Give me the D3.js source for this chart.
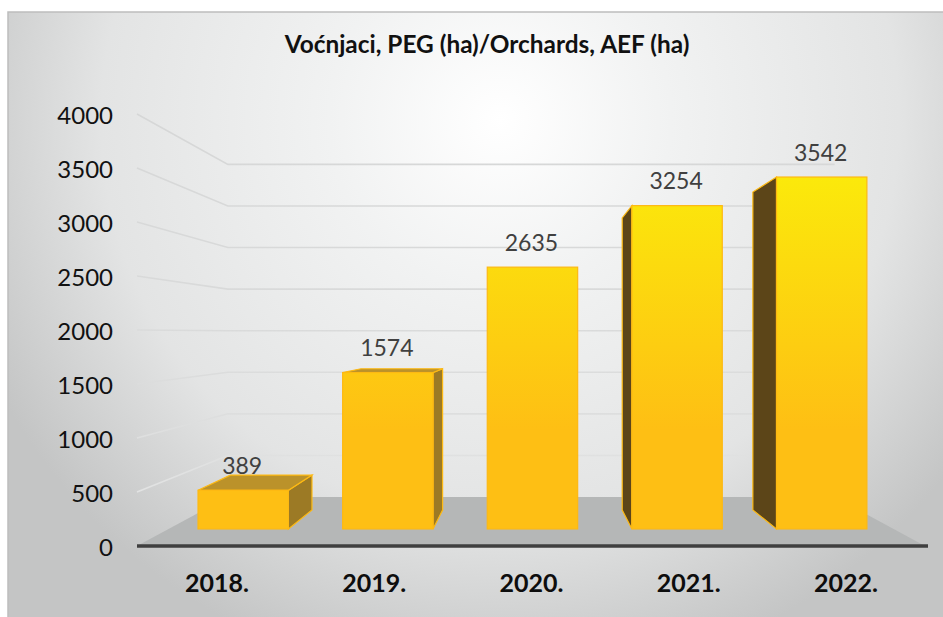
<!DOCTYPE html>
<html><head><meta charset="utf-8">
<script src="https://cdn.jsdelivr.net/npm/d3@7/dist/d3.min.js"></script>
<style>html,body{margin:0;padding:0;background:#fff}svg{display:block}text{font-family:Lato,"Noto Sans",sans-serif}</style>
</head><body><div id="chart"></div>
<script>
const categories = ["2018.", "2019.", "2020.", "2021.", "2022."];
const values = [389, 1574, 2635, 3254, 3542];
const tickValues = [0, 500, 1000, 1500, 2000, 2500, 3000, 3500, 4000];
const titleText = "Voćnjaci, PEG (ha)/Orchards, AEF (ha)";

const W = 943, H = 617;
const vp = [532, 333];                // perspective vanishing point
const depthBarFront = 0.08, depthBarBack = 0.169, depthWall = 0.23;
const P = (x, y, d) => [x + (vp[0] - x) * d, y + (vp[1] - y) * d];

const y = d3.scaleLinear().domain([0, 4000]).range([546, 114]);
const x = d3.scaleBand().domain(categories).range([139.5, 925.5]).paddingInner(0.375).paddingOuter(0.1875);
const floorX = d3.scaleLinear().domain([0, 1]).range([137, 925]);

const svg = d3.select("#chart").append("svg").attr("width", W).attr("height", H);
const defs = svg.append("defs");
const bg = defs.append("radialGradient").attr("id", "bg").attr("gradientUnits", "userSpaceOnUse")
  .attr("cx", 500).attr("cy", 120).attr("r", 570);
[[0, "#ffffff"], [0.3, "#f1f2f2"], [0.7, "#e3e4e4"], [1, "#c4c5c5"]].forEach(s => bg.append("stop").attr("offset", s[0]).attr("stop-color", s[1]));
const barG = defs.append("linearGradient").attr("id", "barFill").attr("gradientUnits", "userSpaceOnUse")
  .attr("x1", 0).attr("x2", 0).attr("y1", 178).attr("y2", 430);
[[0, "#fbe90b"], [1, "#febf14"]].forEach(s => barG.append("stop").attr("offset", s[0]).attr("stop-color", s[1]));
const gridG = defs.append("linearGradient").attr("id", "gridStroke").attr("gradientUnits", "userSpaceOnUse")
  .attr("x1", 0).attr("x2", 0).attr("y1", 114).attr("y2", 495);
[[0, "#d6d7d7"], [0.5, "#d9dada"], [0.75, "#dcdddd"], [1, "#e2e3e3"]].forEach(s => gridG.append("stop").attr("offset", s[0]).attr("stop-color", s[1]));

svg.append("rect").attr("x", 8).attr("y", 12).attr("width", 940).attr("height", 610)
  .attr("fill", "url(#bg)").attr("stroke", "#bdbdbd").attr("stroke-width", 1.5);

const line = d3.line();
const poly = pts => line(pts) + "Z";

// floor
svg.append("path").attr("fill", "#b5b7b7").attr("d", poly([
  P(floorX(0), y(0), 0), P(floorX(1), y(0), 0), P(floorX(1), y(0), depthWall), P(floorX(0), y(0), depthWall)]));

// gridlines: side wall + back wall
tickValues.filter(v => v > 0).forEach(v => {
  svg.append("path").attr("fill", "none").attr("stroke", "url(#gridStroke)").attr("stroke-width", 1.6)
    .attr("d", line([P(floorX(0), y(v), 0), P(floorX(0), y(v), depthWall), P(floorX(1), y(v), depthWall)]));
});

// bars
const sideG = svg.append("g"), frontG = svg.append("g");
categories.forEach((c, i) => {
  const v = values[i], l = x(c), r = l + x.bandwidth(), t = y(v), b = y(0);
  const edge = "#fdb913";
  const cx = l + x.bandwidth() / 2;
  const sideX = cx < vp[0] - 1 ? r : (cx > vp[0] + 1 ? l : null);
  if (sideX !== null) {
    sideG.append("path").attr("fill", cx < vp[0] ? "#9c7a25" : "#5c4518").attr("stroke", edge).attr("stroke-width", 1.2)
      .attr("d", poly([P(sideX, t, depthBarFront), P(sideX, b, depthBarFront), P(sideX, b, depthBarBack), P(sideX, t, depthBarBack)]));
  }
  if (t > vp[1]) {
    sideG.append("path").attr("fill", "#bb922a").attr("stroke", edge).attr("stroke-width", 1.2)
      .attr("d", poly([P(l, t, depthBarFront), P(r, t, depthBarFront), P(r, t, depthBarBack), P(l, t, depthBarBack)]));
  }
  const f0 = P(l, t, depthBarFront), f1 = P(r, b, depthBarFront);
  frontG.append("rect").attr("x", f0[0]).attr("y", f0[1]).attr("width", f1[0] - f0[0]).attr("height", f1[1] - f0[1])
    .attr("fill", "url(#barFill)").attr("stroke", edge).attr("stroke-width", 1.2);
  svg.append("text").attr("x", f0[0] + (f1[0] - f0[0]) / 2 - 1).attr("y", f0[1] - 16.5).attr("text-anchor", "middle")
    .attr("font-size", 23).attr("fill", "#404040").text(v);
  svg.append("text").attr("x", cx - 1).attr("y", 592).attr("text-anchor", "middle")
    .attr("font-size", 25).attr("font-weight", 700).attr("fill", "#0d0d0d").text(c);
});

// axis line
svg.append("line").attr("x1", floorX(0)).attr("x2", floorX(1) + 3).attr("y1", y(0)).attr("y2", y(0))
  .attr("stroke", "#3f3f3f").attr("stroke-width", 3.6);

// y tick labels
tickValues.forEach(v => svg.append("text").attr("x", 113).attr("y", y(v) + 9.6).attr("text-anchor", "end")
  .attr("font-size", 24).attr("fill", "#111").text(v));

svg.append("text").attr("x", 487).attr("y", 53).attr("text-anchor", "middle")
  .attr("font-size", 24.4).attr("font-weight", 700).attr("fill", "#111").text(titleText);
</script></body></html>
